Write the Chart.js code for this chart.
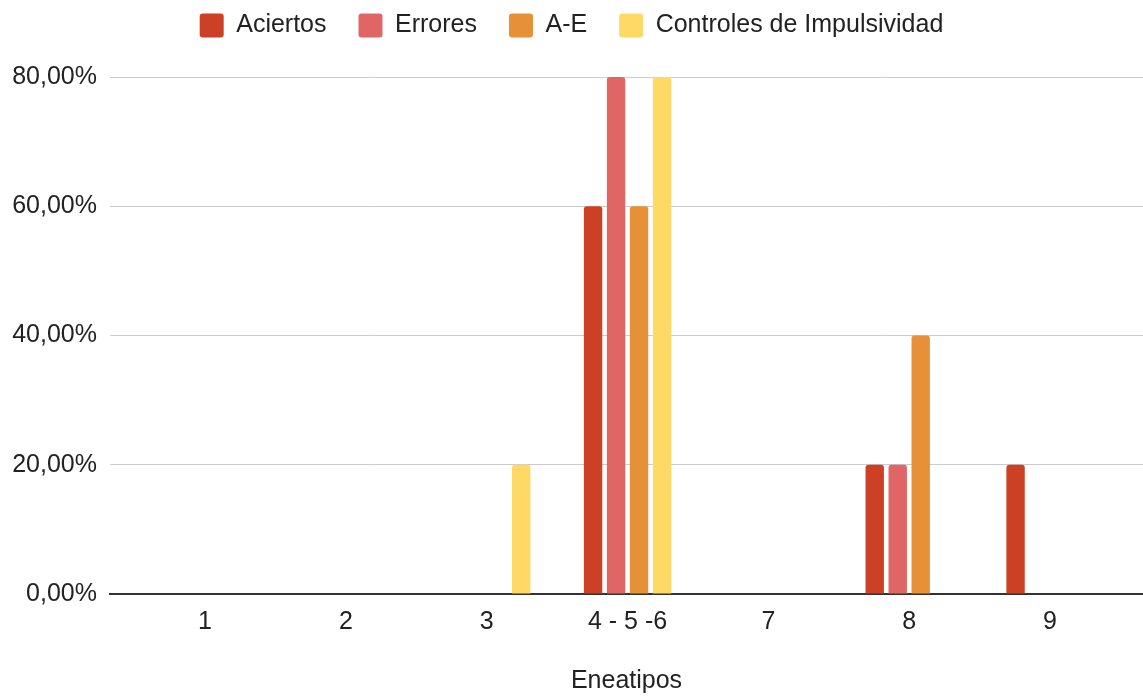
<!DOCTYPE html>
<html>
<head>
<meta charset="utf-8">
<script src="https://cdn.jsdelivr.net/npm/chart.js@4/dist/chart.umd.min.js"></script>
<style>
  html, body { margin: 0; padding: 0; background: #ffffff; }
  #wrap { width: 1143px; height: 696px; }
</style>
</head>
<body>
<div id="wrap"><canvas id="chart" width="1143" height="696"></canvas></div>
<script>
// Eneatipos (x categories) and percentage of each measure
const categories = ['1', '2', '3', '4 - 5 -6', '7', '8', '9'];
const aciertos   = [0, 0, 0, 60, 0, 20, 20];
const errores    = [0, 0, 0, 80, 0, 20, 0];
const aMenosE    = [0, 0, 0, 60, 0, 40, 0];
const controles  = [0, 0, 20, 80, 0, 0, 0];
const yTicks     = [0, 20, 40, 60, 80];

const seriesNames  = ['Aciertos', 'Errores', 'A-E', 'Controles de Impulsividad'];
const seriesColors = ['#cc4125', '#e06666', '#e69138', '#ffd966'];
const seriesValues = [aciertos, errores, aMenosE, controles];

const FONT = 'Liberation Sans, Arial, sans-serif';
const FS = 25;
const TEXT = '#222222';

const toPoints = vals => vals.map((v, i) => ({ x: i + 1, y: v }));

const datasets = seriesValues.map((vals, k) => ({
  label: seriesNames[k],
  data: toPoints(vals),
  backgroundColor: seriesColors[k],
  borderWidth: 0,
  borderRadius: 3,
  borderSkipped: 'start',
  categoryPercentage: 0.653,
  barPercentage: 0.8
}));

const fmtPct = v => v.toFixed(2).replace('.', ',') + '%';

// Keep the legend band a fixed height so the plot starts at the top gridline
const legendBand = {
  id: 'legendBand',
  beforeInit(chart) {
    const lg = chart.legend;
    const fit = lg.fit.bind(lg);
    lg.fit = function () { fit(); this.height = 96; };
  }
};

new Chart(document.getElementById('chart'), {
  type: 'bar',
  data: { datasets },
  plugins: [legendBand],
  options: {
    responsive: false,
    animation: false,
    layout: { padding: { top: -19, left: 0, right: 0, bottom: 0 } },
    plugins: {
      legend: {
        position: 'top',
        labels: {
          font: { family: FONT, size: FS },
          color: TEXT,
          boxWidth: 24,
          boxHeight: 24,
          padding: 32,
          useBorderRadius: true,
          borderRadius: 3
        }
      },
      tooltip: { enabled: false }
    },
    scales: {
      x: {
        type: 'linear',
        offset: false,
        min: 0.325,
        max: 7.66,
        afterBuildTicks(scale) {
          scale.ticks = categories.map((_, i) => ({ value: i + 1 }));
        },
        afterFit(scale) { scale.height = 102; },
        grid: { display: false, drawTicks: false, offset: false },
        border: { display: true, color: '#333333', width: 2 },
        ticks: {
          autoSkip: false,
          maxRotation: 0,
          padding: 13,
          color: TEXT,
          font: { family: FONT, size: FS },
          callback: v => categories[Math.round(v) - 1]
        },
        title: {
          display: true,
          text: 'Eneatipos',
          color: TEXT,
          font: { family: FONT, size: FS },
          padding: { top: 0, bottom: 0 }
        }
      },
      y: {
        min: 0,
        max: 80,
        afterBuildTicks(scale) {
          scale.ticks = yTicks.map(v => ({ value: v }));
        },
        afterFit(scale) { scale.width = 110; },
        grid: { color: '#cccccc', lineWidth: 1, drawTicks: false },
        border: { display: false },
        ticks: {
          padding: 13,
          color: TEXT,
          font: { family: FONT, size: FS },
          callback: v => fmtPct(v)
        }
      }
    }
  }
});
</script>
</body>
</html>
